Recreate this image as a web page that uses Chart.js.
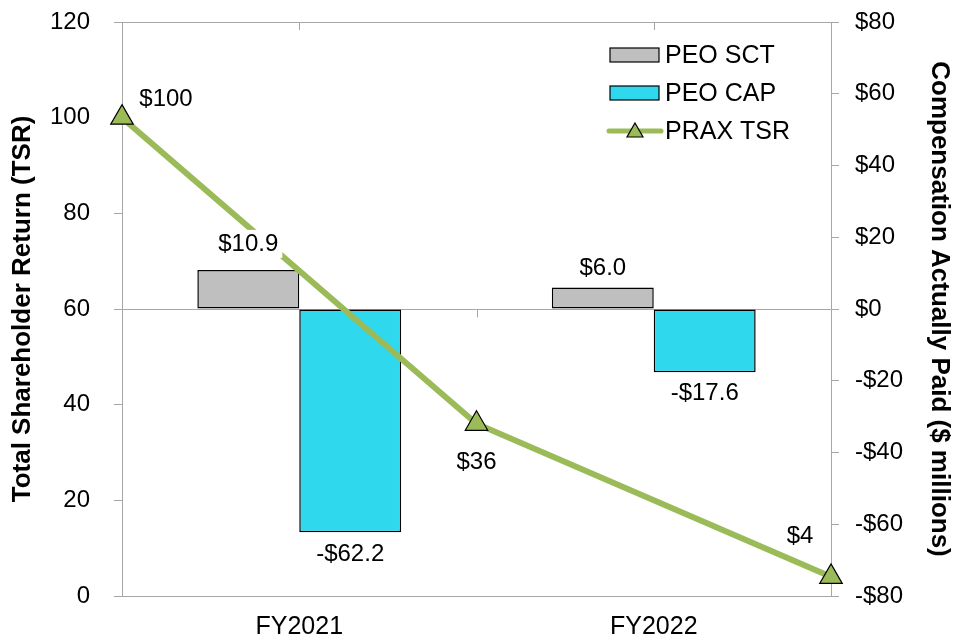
<!DOCTYPE html>
<html lang="en">
<head>
<meta charset="UTF-8">
<title>PRAX TSR vs Compensation Actually Paid</title>
<script src="https://cdn.jsdelivr.net/npm/chart.js"></script>
<style>
  html, body { margin: 0; padding: 0; background: #fff; }
  #wrap { width: 966px; height: 639px; }
</style>
</head>
<body>
<div id="wrap"><canvas id="chart"></canvas></div>
<script>
  // data
  const years = ['FY2021', 'FY2022'];
  const peoSct = [10.9, 6.0];
  const peoCap = [-62.2, -17.6];
  const tsrX = [0, 1, 2];          // start of FY2021, end of FY2021, end of FY2022
  const tsrValues = [100, 36, 4];
  const tsrLabels = ['$100', '$36', '$4'];

  const GRAY_AXIS = '#a6a6a6';
  const GREEN = '#9bbb59';
  const SCT_COLOR = '#bfbfbf';
  const CAP_COLOR = '#30d8ee';
  const FONT = "'Liberation Sans', Arial, sans-serif";

  Chart.defaults.font.family = FONT;
  Chart.defaults.color = '#000';

  const money = v => (v < 0 ? '-$' : '$') + Math.abs(v);

  function labelBox(ctx, text, x, y) {
    const w = ctx.measureText(text).width;
    ctx.fillStyle = '#fff';
    ctx.fillRect(x - w / 2 - 4, y - 14, w + 8, 28);
    ctx.fillStyle = '#000';
    ctx.fillText(text, x, y);
  }

  // extra ticks, data labels and the legend inside the plot
  const extras = {
    id: 'extras',
    afterDraw(chart) {
      const { ctx, chartArea, scales } = chart;
      ctx.save();

      ctx.strokeStyle = GRAY_AXIS;
      ctx.lineWidth = 1;
      ctx.beginPath();
      years.forEach((_, i) => {
        const x = Math.round(scales.x.getPixelForValue(i + 0.5)) + 0.5;
        ctx.moveTo(x, chartArea.top);
        ctx.lineTo(x, chartArea.top + 8);
      });
      const zero = Math.round(scales.y2.getPixelForValue(0)) + 0.5;
      const mid = Math.round(scales.x.getPixelForValue(1)) + 0.5;
      ctx.moveTo(mid, zero);
      ctx.lineTo(mid, zero + 8);
      ctx.stroke();

      ctx.font = '24px ' + FONT;
      ctx.textAlign = 'center';
      ctx.textBaseline = 'middle';

      const barOffs = { 1: [-26, -19], 2: [22, 21] };
      [1, 2].forEach(di => {
        const ds = chart.data.datasets[di];
        chart.getDatasetMeta(di).data.forEach((bar, i) => {
          const v = ds.data[i].y;
          const txt = (v < 0 ? '-$' : '$') + Math.abs(v).toFixed(1);
          labelBox(ctx, txt, bar.x, bar.y + barOffs[di][i]);
        });
      });

      const offs = [[44, -18], [0, 39], [-31, -40]];
      chart.getDatasetMeta(0).data.forEach((pt, i) => {
        labelBox(ctx, tsrLabels[i], pt.x + offs[i][0], pt.y + offs[i][1]);
      });

      // legend
      const lx = 609, rows = [55, 93, 131];
      ctx.textAlign = 'left';
      ctx.lineWidth = 1.2;
      ctx.strokeStyle = '#000';
      [SCT_COLOR, CAP_COLOR].forEach((c, i) => {
        ctx.fillStyle = c;
        ctx.fillRect(lx + 1, rows[i] - 7, 49, 14);
        ctx.strokeRect(lx + 1, rows[i] - 7, 49, 14);
      });
      ctx.strokeStyle = GREEN;
      ctx.lineWidth = 5;
      ctx.lineCap = 'round';
      ctx.beginPath();
      ctx.moveTo(lx, rows[2]);
      ctx.lineTo(lx + 52, rows[2]);
      ctx.stroke();
      ctx.fillStyle = GREEN;
      ctx.strokeStyle = '#000';
      ctx.lineWidth = 1.2;
      ctx.beginPath();
      ctx.moveTo(lx + 26, rows[2] - 8);
      ctx.lineTo(lx + 34, rows[2] + 6);
      ctx.lineTo(lx + 18, rows[2] + 6);
      ctx.closePath();
      ctx.fill();
      ctx.stroke();

      ctx.font = '25px ' + FONT;
      ctx.fillStyle = '#000';
      ['PEO SCT', 'PEO CAP', 'PRAX TSR'].forEach((t, i) => ctx.fillText(t, lx + 56, rows[i] + 1));

      ctx.restore();
    }
  };

  const barStyle = {
    type: 'bar',
    xAxisID: 'x',
    yAxisID: 'y2',
    borderColor: '#000',
    borderWidth: 1.5,
    borderSkipped: false,
    categoryPercentage: 0.575,
    barPercentage: 1
  };

  new Chart(document.getElementById('chart'), {
    data: {
      datasets: [
        {
          type: 'line',
          label: 'PRAX TSR',
          data: tsrX.map((x, i) => ({ x, y: tsrValues[i] })),
          xAxisID: 'x',
          yAxisID: 'y',
          borderColor: GREEN,
          borderWidth: 6,
          tension: 0,
          pointStyle: 'triangle',
          pointRadius: 13,
          pointBackgroundColor: GREEN,
          pointBorderColor: '#000',
          pointBorderWidth: 1.2,
          clip: false,
          order: 0
        },
        Object.assign({}, barStyle, {
          label: 'PEO SCT',
          data: peoSct.map((v, i) => ({ x: i + 0.5, y: v })),
          backgroundColor: SCT_COLOR,
          order: 1
        }),
        Object.assign({}, barStyle, {
          label: 'PEO CAP',
          data: peoCap.map((v, i) => ({ x: i + 0.5, y: v })),
          backgroundColor: CAP_COLOR,
          order: 2
        })
      ]
    },
    options: {
      responsive: true,
      maintainAspectRatio: false,
      animation: false,
      layout: { padding: 0 },
      plugins: { legend: { display: false }, tooltip: { enabled: false } },
      scales: {
        x: {
          type: 'linear',
          position: 'bottom',
          min: 0,
          max: 2,
          offset: false,
          afterBuildTicks(s) { s.ticks = years.map((_, i) => ({ value: i + 0.5 })); },
          grid: { display: false, drawTicks: false, offset: false },
          border: { color: GRAY_AXIS },
          ticks: {
            autoSkip: false,
            font: { size: 25 },
            padding: 16,
            callback: v => years[Math.round(v - 0.5)]
          },
          afterFit(s) { s.height = 43; s.paddingLeft = 0; s.paddingRight = 0; }
        },
        x2: {
          type: 'linear',
          position: 'top',
          min: 0,
          max: 2,
          offset: false,
          ticks: { display: false },
          grid: { display: false },
          border: { color: GRAY_AXIS },
          afterFit(s) { s.height = 22; s.paddingLeft = 0; s.paddingRight = 0; }
        },
        y: {
          position: 'left',
          min: 0,
          max: 120,
          ticks: { stepSize: 20, font: { size: 24 }, padding: 24 },
          grid: { drawOnChartArea: false, tickLength: 8, color: GRAY_AXIS },
          border: { color: GRAY_AXIS },
          title: {
            display: true,
            text: 'Total Shareholder Return (TSR)',
            font: { size: 26, weight: 'bold', lineHeight: 1 },
            padding: { top: 10, bottom: 0 }
          },
          afterFit(s) { s.width = 122; s.paddingTop = 0; s.paddingBottom = 0; }
        },
        y2: {
          position: 'right',
          min: -80,
          max: 80,
          ticks: { stepSize: 20, font: { size: 24 }, padding: 16, callback: v => money(v) },
          grid: {
            tickLength: 8,
            color: c => (c.tick && c.tick.value === 0 ? GRAY_AXIS : 'rgba(0,0,0,0)'),
            tickColor: GRAY_AXIS
          },
          border: { color: GRAY_AXIS },
          title: {
            display: true,
            text: 'Compensation Actually Paid ($ millions)',
            font: { size: 26, weight: 'bold', lineHeight: 1 },
            padding: { top: 14, bottom: 0 }
          },
          afterFit(s) { s.width = 135; s.paddingTop = 0; s.paddingBottom = 0; }
        }
      }
    },
    plugins: [extras]
  });
</script>
</body>
</html>
